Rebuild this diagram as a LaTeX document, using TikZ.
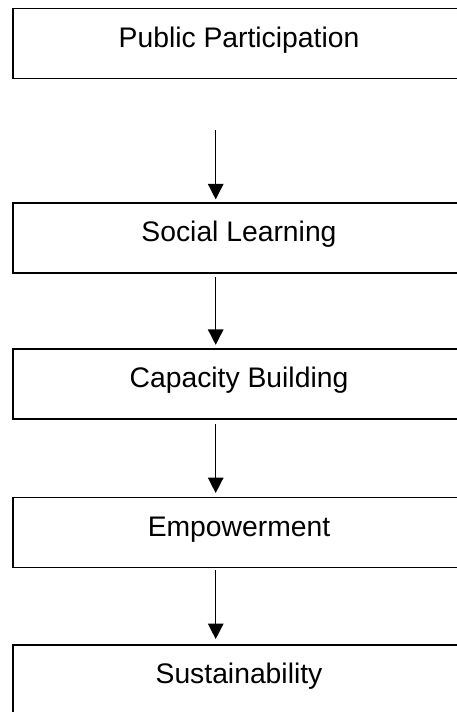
\documentclass[tikz,border=0pt]{standalone}
\usepackage{fontspec}
\setmainfont{Liberation Sans}
\usetikzlibrary{arrows.meta}
\begin{document}
\begin{tikzpicture}[x=1pt,y=-1pt,
  stagebox/.style={draw=black, line width=1.9pt, rectangle, inner sep=0pt,
    minimum width=452pt, minimum height=70pt, text height=20pt, text depth=13pt,
    font=\fontsize{28.3}{34}\selectfont},
  flowarrow/.style={draw=black, line width=1.4pt, -{Triangle[length=15.5pt,width=15.5pt]}}]
\useasboundingbox (0,0) rectangle (457,712);
\clip (0,0) rectangle (457,712);
\node[stagebox] (b1) at (239,43.5) {Public Participation};
\node[stagebox] (b2) at (239,238.3) {Social Learning};
\node[stagebox] (b3) at (239,384.3) {Capacity Building};
\node[stagebox] (b4) at (239,532.5) {Empowerment};
\node[stagebox] (b5) at (239,680) {Sustainability};
\coordinate (a1) at (215.7,130);
\draw[flowarrow, shorten >=3pt] (a1) -- (b2.north -| a1);
\draw[flowarrow, shorten <=3pt, shorten >=3.5pt] (b2.south -| a1) -- (b3.north -| a1);
\draw[flowarrow, shorten <=4pt, shorten >=3.5pt] (b3.south -| a1) -- (b4.north -| a1);
\draw[flowarrow, shorten <=2pt, shorten >=5pt] (b4.south -| a1) -- (b5.north -| a1);
\end{tikzpicture}
\end{document}
